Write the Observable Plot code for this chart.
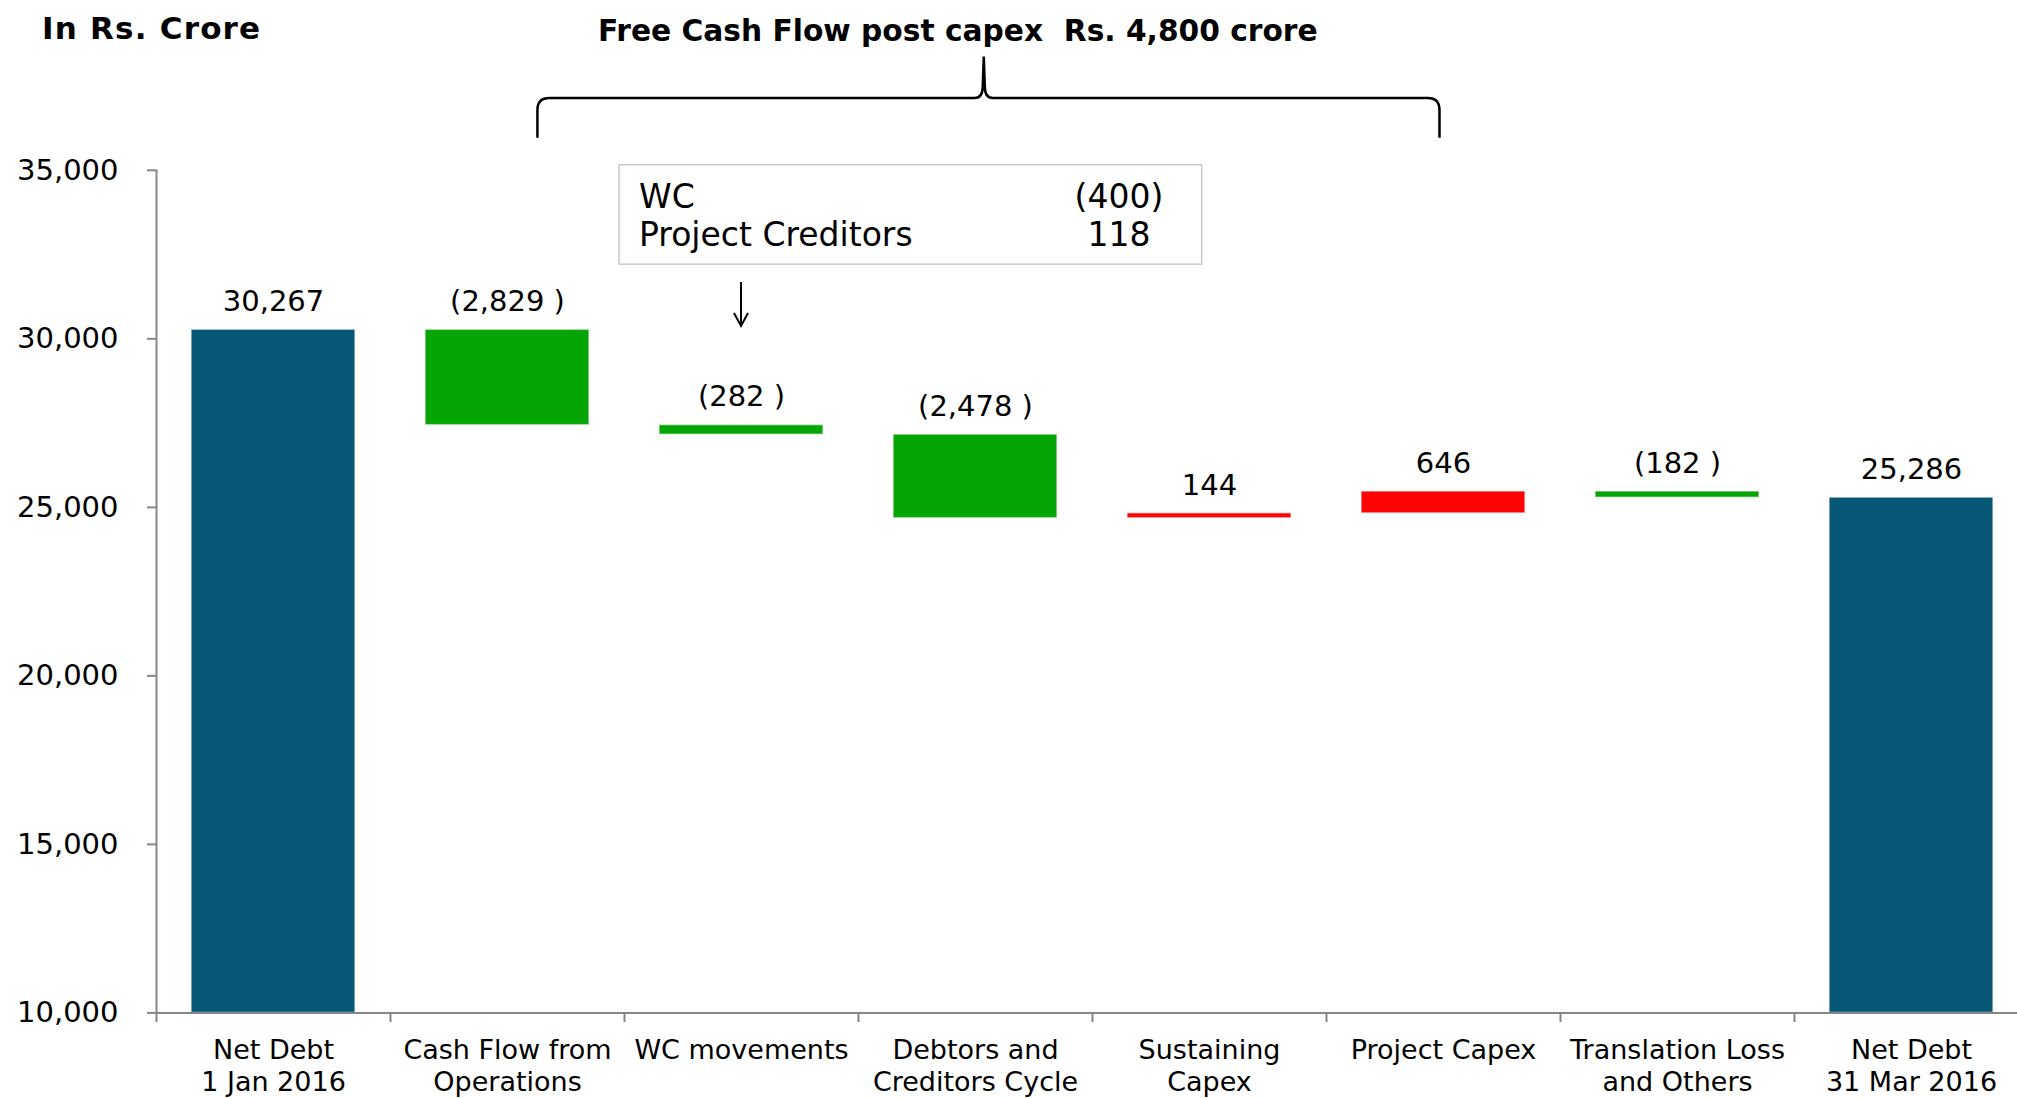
<!DOCTYPE html>
<html><head><meta charset="utf-8">
<script src="https://cdn.jsdelivr.net/npm/d3@7"></script>
<script src="https://cdn.jsdelivr.net/npm/@observablehq/plot@0.6"></script>
<style>html,body{margin:0;padding:0;background:#fff;overflow:hidden}</style>
</head><body><div id="chart"></div>
<script>
// ---- data ----
const categories = ["Net Debt\n1 Jan 2016", "Cash Flow from\nOperations", "WC movements", "Debtors and\nCreditors Cycle", "Sustaining\nCapex", "Project Capex", "Translation Loss\nand Others", "Net Debt\n31 Mar 2016"];
const kinds = ["total", "delta", "delta", "delta", "delta", "delta", "delta", "total"];
const values = [30267, -2829, -282, -2478, 144, 646, -182, 25286];
const yTicks = [10000, 15000, 20000, 25000, 30000, 35000];
const yDomain = [10000, 35000];
const unitTitle = "In Rs. Crore";
const braceTitle = "Free Cash Flow post capex\u00a0\u00a0Rs. 4,800 crore";
const braceFrom = categories[1];
const braceTo = categories[5];
const calloutTarget = categories[2];
const calloutLabels = ["WC", "Project Creditors"];
const calloutValues = ["(400)", "118"];

// ---- derived table ----
const fmt = d3.format(",");
const fmtLabel = v => v < 0 ? `(${fmt(-v)} )` : fmt(v);
let run = 0;
const rows = categories.map((c, i) => {
  const v = values[i];
  let y1, y2;
  if (kinds[i] === "total") { y1 = yDomain[0]; y2 = v; run = v; }
  else { y1 = run; y2 = run + v; run = y2; }
  return {cat: c, y1, y2, top: Math.max(y1, y2), kind: kinds[i] === "total" ? "total" : (v < 0 ? "down" : "up"), label: kinds[i] === "total" ? fmt(v) : fmtLabel(v)};
});

const FONT = "DejaVu Sans";
const AXIS = "#878787";

function annotations(index, scales, vals, dims) {
  const x = scales.x, y = scales.y;
  const step = x(categories[1]) - x(categories[0]);
  const bw = step * 0.7;
  const cx = c => x(c) + bw / 2;
  const g = d3.create("svg:g").attr("font-family", FONT).attr("fill", "black").attr("text-anchor", "start");
  // brace
  const xl = cx(braceFrom) + 0.13 * step, xr = cx(braceTo) - 0.015 * step;
  const xm = (xl + xr) / 2 - 0.02 * step;
  const yh = y(37130), ye = y(35950), yp = y(38360);
  const r = 12;
  const path = `M${xl},${ye} L${xl},${yh + r} Q${xl},${yh} ${xl + r},${yh} L${xm - 9},${yh} Q${xm - 1},${yh} ${xm - 1},${yh - 12} L${xm},${yp} L${xm + 1},${yh - 12} Q${xm + 1},${yh} ${xm + 9},${yh} L${xr - r},${yh} Q${xr},${yh} ${xr},${yh + r} L${xr},${ye}`;
  g.append("path").attr("d", path).attr("fill", "none").attr("stroke", "black").attr("stroke-width", 2.5);
  g.append("text").attr("x", xm - 26).attr("y", y(39120)).attr("text-anchor", "middle")
    .attr("dominant-baseline", "central").attr("font-weight", "bold").attr("font-size", 29.7)
    .text(braceTitle);
  // unit title
  const x0 = x(categories[0]) - 0.15 * step;
  g.append("text").attr("x", x0 - 114).attr("y", y(39210)).attr("dominant-baseline", "central")
    .attr("text-anchor", "start").attr("font-weight", "bold").attr("font-size", 31)
    .attr("letter-spacing", 1.2).text(unitTitle);
  // callout box
  const bl = x(calloutTarget) - 0.15 * step - 5;
  const bwid = 2.49 * step;
  const bt = y(35150), bb = y(32200);
  g.append("rect").attr("x", bl).attr("y", bt).attr("width", bwid).attr("height", bb - bt)
    .attr("fill", "white").attr("stroke", "#c8c8c8").attr("stroke-width", 1.5);
  const rowY = [y(34220), y(33070)];
  calloutLabels.forEach((t, i) => {
    g.append("text").attr("x", bl + 20).attr("y", rowY[i]).attr("dominant-baseline", "central")
      .attr("text-anchor", "start").attr("font-size", 33).text(t);
    g.append("text").attr("x", bl + 0.858 * bwid).attr("y", rowY[i]).attr("dominant-baseline", "central")
      .attr("text-anchor", "middle").attr("font-size", 33).text(calloutValues[i]);
  });
  // arrow
  const ax = cx(calloutTarget), a1 = y(31674), a2 = y(30368);
  g.append("path").attr("d", `M${ax},${a1} L${ax},${a2} M${ax - 7},${a2 - 13} L${ax},${a2} L${ax + 7},${a2 - 13}`)
    .attr("fill", "none").attr("stroke", "black").attr("stroke-width", 2);
  return g.node();
}

const chart = Plot.plot({
  width: 2017,
  height: 1098,
  marginLeft: 156,
  marginRight: 0,
  marginTop: 170,
  marginBottom: 86,
  style: {fontFamily: FONT, fontSize: "29px", background: "white", color: "black", overflow: "hidden"},
  x: {domain: categories, range: [156, 2028], paddingInner: 0.3, paddingOuter: 0.15, align: 0.5, round: false, label: null},
  y: {domain: yDomain, range: [1012.4, 169.8], label: null},
  color: {domain: ["total", "down", "up"], range: ["#065775", "#06A506", "#FE0303"]},
  marks: [
    Plot.barY(rows, {x: "cat", y1: "y1", y2: "y2", fill: "kind", stroke: "white", strokeOpacity: 0.45, strokeWidth: 1.5}),
    Plot.text(rows, {x: "cat", y: "top", text: "label", dy: -28, fontSize: 29, fill: "black"}),
    Plot.ruleY([yDomain[0]], {stroke: AXIS, strokeWidth: 2}),
    Plot.frame({anchor: "left", stroke: AXIS, strokeWidth: 2}),
    Plot.axisY({ticks: yTicks, tickFormat: fmt, tickSize: 9, tickPadding: 29, fontSize: 29, stroke: AXIS, strokeWidth: 2, fill: "black", label: null}),
    Plot.axisX({tickSize: 10, tickFormat: () => "", dx: -117, stroke: AXIS, strokeWidth: 2, label: null}),
    Plot.axisX({tickSize: 0, tickPadding: 24, fontSize: 27, lineHeight: 1.17, fill: "black", label: null}),
    annotations
  ]
});
document.getElementById("chart").appendChild(chart);
</script>
</body></html>
